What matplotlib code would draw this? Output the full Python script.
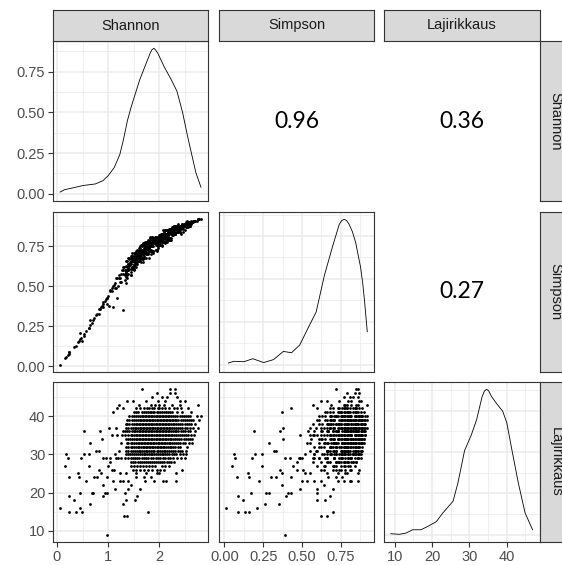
import matplotlib
matplotlib.use("Agg")
import matplotlib.pyplot as plt

plt.rcParams["font.family"] = ["Liberation Sans", "DejaVu Sans"]

NAMES = ["Shannon", "Simpson", "Lajirikkaus"]

# observations, grouped by Lajirikkaus value (first pass 47 ... 9, then extra points of the dense core)
shannon = [
    1.66, 2.21, 2.31,
    1.95, 2.21, 2.31,
    1.87, 2.05, 2.15, 2.35,
    1.38, 1.49, 1.75, 1.98, 2.12, 2.40, 2.50,
    1.22, 1.60, 1.85, 1.92, 2.00, 2.10, 2.25, 2.40, 2.76,
    1.17, 1.30, 1.55, 1.62, 1.70, 1.90, 1.97, 2.05, 2.12, 2.30, 2.42, 2.56,
    1.10, 1.50, 1.58, 1.75, 1.82, 1.88, 1.95, 2.02, 2.10, 2.18, 2.26, 2.35, 2.45, 2.63,
    1.42, 1.50, 1.58, 1.66, 1.72, 1.78, 1.84, 1.90, 1.96, 2.02, 2.08, 2.14, 2.20, 2.28, 2.36, 2.44, 2.52, 2.60, 2.74, 2.82,
    1.38, 1.46, 1.54, 1.62, 1.68, 1.74, 1.80, 1.86, 1.92, 1.98, 2.04, 2.10, 2.16, 2.22, 2.28, 2.34, 2.42, 2.50, 2.58, 2.66, 2.79,
    1.35, 1.42, 1.50, 1.57, 1.63, 1.69, 1.75, 1.81, 1.87, 1.93, 1.99, 2.05, 2.11, 2.17, 2.23, 2.30, 2.37, 2.45, 2.54, 2.62, 2.70,
    1.02, 1.16, 1.36, 1.44, 1.52, 1.59, 1.65, 1.71, 1.77, 1.83, 1.89, 1.95, 2.01, 2.07, 2.13, 2.19, 2.26, 2.33, 2.41, 2.50, 2.60, 2.76,
    0.52, 0.84, 1.30, 1.38, 1.46, 1.53, 1.60, 1.66, 1.72, 1.78, 1.84, 1.90, 1.96, 2.02, 2.08, 2.14, 2.20, 2.27, 2.34, 2.42, 2.51, 2.60, 2.71,
    1.07, 1.18, 1.27, 1.40, 1.47, 1.54, 1.60, 1.66, 1.72, 1.78, 1.84, 1.90, 1.96, 2.02, 2.08, 2.14, 2.20, 2.26, 2.33, 2.40, 2.48, 2.57, 2.68,
    0.88, 1.35, 1.43, 1.50, 1.57, 1.63, 1.69, 1.75, 1.81, 1.87, 1.93, 1.99, 2.05, 2.11, 2.17, 2.24, 2.31, 2.39, 2.48, 2.57, 2.65,
    0.65, 1.25, 1.40, 1.47, 1.54, 1.61, 1.67, 1.73, 1.79, 1.85, 1.91, 1.97, 2.03, 2.09, 2.15, 2.22, 2.29, 2.37, 2.46, 2.58, 2.65,
    1.40, 1.47, 1.54, 1.61, 1.68, 1.74, 1.80, 1.86, 1.92, 1.98, 2.04, 2.10, 2.17, 2.24, 2.32, 2.41, 2.55,
    0.77, 0.82, 1.22, 1.40, 1.48, 1.56, 1.63, 1.70, 1.77, 1.84, 1.91, 1.98, 2.05, 2.12, 2.20, 2.28, 2.37, 2.45,
    0.18, 0.52, 0.62, 1.14, 1.35, 1.43, 1.51, 1.59, 1.66, 1.73, 1.80, 1.87, 1.94, 2.01, 2.08, 2.16, 2.25, 2.40, 2.53,
    0.21, 0.47, 0.90, 0.96, 1.04, 1.20, 1.25, 1.40, 1.48, 1.57, 1.66, 1.75, 1.84, 1.93, 2.02, 2.12, 2.22, 2.35, 2.50,
    1.03, 1.45, 1.53, 1.62, 1.70, 1.78, 1.86, 1.94, 2.02, 2.10, 2.19, 2.30,
    0.15, 0.62, 0.99, 1.45, 1.56, 1.68, 1.80, 1.92, 2.05, 2.20,
    0.83, 1.07, 1.12, 1.48, 1.62, 1.78, 1.95, 2.10, 2.44,
    0.41, 0.86, 1.23, 1.36, 1.55, 1.75, 1.95, 2.00, 2.34,
    0.23, 0.44, 0.73, 0.78, 0.97, 1.55, 1.70, 1.85,
    0.57, 1.10, 1.23, 1.30, 1.40, 1.72, 1.90, 2.08, 2.14, 2.34,
    0.91, 1.45,
    1.14, 1.40, 1.62,
    0.45, 0.68, 0.71, 0.94, 0.97, 1.33,
    0.23, 0.91, 1.56,
    0.34, 1.35, 1.53,
    0.65, 1.29,
    0.06, 0.45,
    0.23, 0.38, 0.49, 1.79,
    1.32, 1.38,
    0.97,
    # extra core points
    1.46, 1.54, 1.62, 1.69, 1.75, 1.81, 1.87, 1.93, 1.99, 2.05, 2.11, 2.17, 2.24, 2.32, 2.40, 2.48, 2.56,
    1.42, 1.50, 1.58, 1.65, 1.71, 1.77, 1.83, 1.89, 1.95, 2.01, 2.07, 2.13, 2.19, 2.25, 2.31, 2.38, 2.46, 2.54, 2.62,
    1.38, 1.46, 1.54, 1.60, 1.66, 1.72, 1.78, 1.84, 1.90, 1.96, 2.02, 2.08, 2.14, 2.20, 2.27, 2.34, 2.41, 2.50, 2.58,
    1.40, 1.48, 1.55, 1.62, 1.68, 1.74, 1.80, 1.86, 1.92, 1.98, 2.04, 2.10, 2.16, 2.22, 2.29, 2.37, 2.45, 2.55, 2.66,
    1.34, 1.42, 1.50, 1.56, 1.63, 1.69, 1.75, 1.81, 1.87, 1.93, 1.99, 2.05, 2.11, 2.17, 2.24, 2.31, 2.38, 2.47, 2.56,
    1.33, 1.44, 1.51, 1.57, 1.63, 1.69, 1.75, 1.81, 1.87, 1.93, 1.99, 2.05, 2.11, 2.17, 2.23, 2.30, 2.37, 2.44, 2.52, 2.62,
    1.39, 1.47, 1.54, 1.60, 1.66, 1.72, 1.78, 1.84, 1.90, 1.96, 2.02, 2.08, 2.14, 2.21, 2.28, 2.35, 2.43, 2.52, 2.61,
    1.37, 1.44, 1.51, 1.58, 1.64, 1.70, 1.76, 1.82, 1.88, 1.94, 2.00, 2.06, 2.12, 2.19, 2.26, 2.33, 2.41, 2.51,
    1.36, 1.44, 1.51, 1.58, 1.65, 1.71, 1.77, 1.83, 1.89, 1.95, 2.01, 2.07, 2.14, 2.21, 2.28, 2.37,
    1.36, 1.44, 1.52, 1.60, 1.67, 1.74, 1.81, 1.88, 1.95, 2.02, 2.09, 2.16, 2.24, 2.32, 2.41, 2.52,
    1.39, 1.47, 1.55, 1.62, 1.70, 1.77, 1.84, 1.91, 1.98, 2.05, 2.12, 2.20, 2.29, 2.34, 2.47,
    1.44, 1.52, 1.61, 1.70, 1.79, 1.88, 1.97, 2.07, 2.17, 2.28, 2.42, 1.33, 1.15,
    1.49, 1.58, 1.66, 1.74, 1.82, 1.90, 1.98, 2.06, 2.15, 2.24,
    1.54, 1.66, 1.70, 1.79, 1.85, 1.91, 1.98, 2.06, 2.14, 2.22,
    1.80, 1.86, 2.00, 2.20, 2.36, 1.76,
    1.50, 1.62, 1.74, 1.86, 2.12,
    1.55, 1.70, 1.87, 2.02,
]
simpson = [
    0.72, 0.85, 0.86,
    0.79, 0.84, 0.87,
    0.77, 0.81, 0.83, 0.86,
    0.62, 0.66, 0.74, 0.80, 0.82, 0.87, 0.88,
    0.57, 0.69, 0.77, 0.78, 0.79, 0.82, 0.85, 0.86, 0.92,
    0.43, 0.60, 0.68, 0.70, 0.73, 0.78, 0.79, 0.81, 0.83, 0.85, 0.87, 0.89,
    0.37, 0.66, 0.70, 0.74, 0.75, 0.78, 0.79, 0.80, 0.81, 0.84, 0.85, 0.86, 0.88, 0.90,
    0.63, 0.69, 0.68, 0.72, 0.71, 0.76, 0.75, 0.78, 0.77, 0.80, 0.82, 0.81, 0.84, 0.85, 0.86, 0.87, 0.89, 0.88, 0.91, 0.92,
    0.60, 0.66, 0.65, 0.71, 0.70, 0.74, 0.77, 0.75, 0.79, 0.78, 0.81, 0.82, 0.80, 0.84, 0.83, 0.86, 0.87, 0.88, 0.89, 0.90, 0.92,
    0.63, 0.61, 0.68, 0.67, 0.72, 0.70, 0.75, 0.74, 0.78, 0.77, 0.80, 0.79, 0.82, 0.83, 0.84, 0.86, 0.85, 0.88, 0.89, 0.90, 0.91,
    0.38, 0.55, 0.59, 0.66, 0.64, 0.70, 0.71, 0.73, 0.76, 0.75, 0.78, 0.80, 0.79, 0.82, 0.83, 0.84, 0.85, 0.86, 0.87, 0.89, 0.90, 0.92,
    0.19, 0.36, 0.62, 0.58, 0.67, 0.66, 0.70, 0.73, 0.72, 0.76, 0.77, 0.79, 0.78, 0.81, 0.82, 0.83, 0.85, 0.84, 0.86, 0.88, 0.89, 0.90, 0.91,
    0.49, 0.55, 0.60, 0.64, 0.62, 0.69, 0.70, 0.72, 0.74, 0.73, 0.77, 0.78, 0.80, 0.79, 0.82, 0.81, 0.84, 0.85, 0.86, 0.87, 0.88, 0.89, 0.91,
    0.38, 0.56, 0.65, 0.63, 0.69, 0.71, 0.70, 0.75, 0.74, 0.77, 0.79, 0.78, 0.81, 0.82, 0.84, 0.83, 0.86, 0.87, 0.88, 0.89, 0.90,
    0.29, 0.53, 0.61, 0.67, 0.66, 0.70, 0.73, 0.72, 0.76, 0.77, 0.78, 0.80, 0.79, 0.82, 0.83, 0.85, 0.84, 0.87, 0.88, 0.89, 0.90,
    0.64, 0.62, 0.68, 0.69, 0.72, 0.74, 0.75, 0.77, 0.78, 0.79, 0.81, 0.80, 0.83, 0.84, 0.86, 0.87, 0.89,
    0.32, 0.33, 0.55, 0.60, 0.66, 0.68, 0.67, 0.72, 0.75, 0.76, 0.78, 0.79, 0.81, 0.80, 0.84, 0.85, 0.86, 0.88,
    0.06, 0.20, 0.24, 0.52, 0.58, 0.64, 0.63, 0.69, 0.71, 0.72, 0.76, 0.75, 0.78, 0.80, 0.81, 0.83, 0.84, 0.87, 0.88,
    0.07, 0.18, 0.39, 0.42, 0.48, 0.50, 0.58, 0.61, 0.66, 0.65, 0.71, 0.74, 0.76, 0.78, 0.80, 0.82, 0.84, 0.86, 0.88,
    0.47, 0.57, 0.67, 0.66, 0.72, 0.74, 0.77, 0.78, 0.79, 0.82, 0.83, 0.85,
    0.05, 0.24, 0.44, 0.65, 0.64, 0.72, 0.75, 0.77, 0.81, 0.84,
    0.36, 0.47, 0.51, 0.62, 0.70, 0.75, 0.78, 0.82, 0.87,
    0.15, 0.37, 0.55, 0.52, 0.66, 0.73, 0.78, 0.79, 0.86,
    0.08, 0.16, 0.30, 0.33, 0.43, 0.67, 0.72, 0.76,
    0.22, 0.50, 0.53, 0.58, 0.62, 0.73, 0.77, 0.81, 0.82, 0.86,
    0.37, 0.64,
    0.49, 0.60, 0.70,
    0.17, 0.27, 0.29, 0.41, 0.43, 0.60,
    0.09, 0.40, 0.68,
    0.12, 0.60, 0.65,
    0.26, 0.35,
    0.01, 0.21,
    0.09, 0.13, 0.16, 0.70,
    0.62, 0.66,
    0.39,
    # extra core points
    0.61, 0.72, 0.69, 0.65, 0.77, 0.72, 0.81, 0.73, 0.81, 0.76, 0.85, 0.81, 0.79, 0.88, 0.84, 0.89, 0.87,
    0.68, 0.61, 0.69, 0.76, 0.69, 0.75, 0.81, 0.71, 0.81, 0.76, 0.80, 0.85, 0.79, 0.87, 0.83, 0.88, 0.84, 0.91, 0.89,
    0.57, 0.69, 0.66, 0.74, 0.67, 0.75, 0.79, 0.72, 0.80, 0.73, 0.82, 0.79, 0.85, 0.80, 0.86, 0.84, 0.88, 0.85, 0.90,
    0.68, 0.62, 0.71, 0.68, 0.77, 0.68, 0.78, 0.75, 0.81, 0.74, 0.83, 0.78, 0.85, 0.80, 0.88, 0.84, 0.89, 0.87, 0.91,
    0.54, 0.67, 0.63, 0.73, 0.70, 0.67, 0.78, 0.72, 0.80, 0.73, 0.81, 0.78, 0.85, 0.79, 0.86, 0.83, 0.89, 0.86, 0.90,
    0.58, 0.57, 0.71, 0.66, 0.75, 0.68, 0.77, 0.68, 0.81, 0.76, 0.82, 0.75, 0.85, 0.82, 0.80, 0.88, 0.84, 0.89, 0.87, 0.91,
    0.61, 0.71, 0.62, 0.73, 0.68, 0.78, 0.73, 0.70, 0.80, 0.78, 0.76, 0.85, 0.79, 0.86, 0.82, 0.88, 0.83, 0.90, 0.88,
    0.55, 0.69, 0.64, 0.71, 0.65, 0.76, 0.71, 0.80, 0.72, 0.81, 0.76, 0.83, 0.78, 0.86, 0.82, 0.88, 0.84, 0.89,
    0.58, 0.68, 0.61, 0.72, 0.69, 0.77, 0.70, 0.79, 0.75, 0.72, 0.82, 0.78, 0.85, 0.79, 0.87, 0.85,
    0.66, 0.59, 0.70, 0.66, 0.76, 0.71, 0.78, 0.72, 0.80, 0.77, 0.84, 0.78, 0.86, 0.83, 0.88, 0.89,
    0.58, 0.69, 0.66, 0.74, 0.68, 0.78, 0.72, 0.80, 0.76, 0.83, 0.77, 0.85, 0.83, 0.86, 0.87,
    0.61, 0.71, 0.66, 0.75, 0.71, 0.80, 0.76, 0.82, 0.81, 0.86, 0.86, 0.57, 0.49,
    0.62, 0.72, 0.68, 0.77, 0.73, 0.80, 0.75, 0.83, 0.80, 0.85,
    0.65, 0.75, 0.68, 0.77, 0.73, 0.80, 0.75, 0.83, 0.80, 0.85,
    0.74, 0.79, 0.76, 0.85, 0.84, 0.77,
    0.60, 0.71, 0.70, 0.78, 0.80,
    0.64, 0.74, 0.72, 0.81,
]
lajirikkaus = [
    47, 47, 47,
    46, 46, 46,
    45, 45, 45, 45,
    44, 44, 44, 44, 44, 44, 44,
    43, 43, 43, 43, 43, 43, 43, 43, 43,
    42, 42, 42, 42, 42, 42, 42, 42, 42, 42, 42, 42,
    41, 41, 41, 41, 41, 41, 41, 41, 41, 41, 41, 41, 41, 41,
    40, 40, 40, 40, 40, 40, 40, 40, 40, 40, 40, 40, 40, 40, 40, 40, 40, 40, 40, 40,
    39, 39, 39, 39, 39, 39, 39, 39, 39, 39, 39, 39, 39, 39, 39, 39, 39, 39, 39, 39, 39,
    38, 38, 38, 38, 38, 38, 38, 38, 38, 38, 38, 38, 38, 38, 38, 38, 38, 38, 38, 38, 38,
    37, 37, 37, 37, 37, 37, 37, 37, 37, 37, 37, 37, 37, 37, 37, 37, 37, 37, 37, 37, 37, 37,
    36, 36, 36, 36, 36, 36, 36, 36, 36, 36, 36, 36, 36, 36, 36, 36, 36, 36, 36, 36, 36, 36, 36,
    35, 35, 35, 35, 35, 35, 35, 35, 35, 35, 35, 35, 35, 35, 35, 35, 35, 35, 35, 35, 35, 35, 35,
    34, 34, 34, 34, 34, 34, 34, 34, 34, 34, 34, 34, 34, 34, 34, 34, 34, 34, 34, 34, 34,
    33, 33, 33, 33, 33, 33, 33, 33, 33, 33, 33, 33, 33, 33, 33, 33, 33, 33, 33, 33, 33,
    32, 32, 32, 32, 32, 32, 32, 32, 32, 32, 32, 32, 32, 32, 32, 32, 32,
    31, 31, 31, 31, 31, 31, 31, 31, 31, 31, 31, 31, 31, 31, 31, 31, 31, 31,
    30, 30, 30, 30, 30, 30, 30, 30, 30, 30, 30, 30, 30, 30, 30, 30, 30, 30, 30,
    29, 29, 29, 29, 29, 29, 29, 29, 29, 29, 29, 29, 29, 29, 29, 29, 29, 29, 29,
    28, 28, 28, 28, 28, 28, 28, 28, 28, 28, 28, 28,
    27, 27, 27, 27, 27, 27, 27, 27, 27, 27,
    26, 26, 26, 26, 26, 26, 26, 26, 26,
    25, 25, 25, 25, 25, 25, 25, 25, 25,
    24, 24, 24, 24, 24, 24, 24, 24,
    23, 23, 23, 23, 23, 23, 23, 23, 23, 23,
    22, 22,
    21, 21, 21,
    20, 20, 20, 20, 20, 20,
    19, 19, 19,
    18, 18, 18,
    17, 17,
    16, 16,
    15, 15, 15, 15,
    14, 14,
    9,
    # extra core points
    40, 40, 40, 40, 40, 40, 40, 40, 40, 40, 40, 40, 40, 40, 40, 40, 40,
    39, 39, 39, 39, 39, 39, 39, 39, 39, 39, 39, 39, 39, 39, 39, 39, 39, 39, 39,
    38, 38, 38, 38, 38, 38, 38, 38, 38, 38, 38, 38, 38, 38, 38, 38, 38, 38, 38,
    37, 37, 37, 37, 37, 37, 37, 37, 37, 37, 37, 37, 37, 37, 37, 37, 37, 37, 37,
    36, 36, 36, 36, 36, 36, 36, 36, 36, 36, 36, 36, 36, 36, 36, 36, 36, 36, 36,
    35, 35, 35, 35, 35, 35, 35, 35, 35, 35, 35, 35, 35, 35, 35, 35, 35, 35, 35, 35,
    34, 34, 34, 34, 34, 34, 34, 34, 34, 34, 34, 34, 34, 34, 34, 34, 34, 34, 34,
    33, 33, 33, 33, 33, 33, 33, 33, 33, 33, 33, 33, 33, 33, 33, 33, 33, 33,
    32, 32, 32, 32, 32, 32, 32, 32, 32, 32, 32, 32, 32, 32, 32, 32,
    31, 31, 31, 31, 31, 31, 31, 31, 31, 31, 31, 31, 31, 31, 31, 31,
    30, 30, 30, 30, 30, 30, 30, 30, 30, 30, 30, 30, 30, 30, 30,
    29, 29, 29, 29, 29, 29, 29, 29, 29, 29, 29, 29, 29,
    28, 28, 28, 28, 28, 28, 28, 28, 28, 28,
    41, 41, 41, 41, 41, 41, 41, 41, 41, 41,
    42, 42, 42, 42, 42, 42,
    27, 27, 27, 27, 27,
    26, 26, 26, 26,
]

# density curves
shannon_dens_x = [0.06, 0.15, 0.30, 0.50, 0.75, 0.90, 1.00, 1.12, 1.23, 1.30, 1.38, 1.45, 1.52,
                  1.62, 1.72, 1.82, 1.86, 1.90, 1.94, 1.98, 2.10, 2.24, 2.35, 2.46, 2.56, 2.64,
                  2.72, 2.82]
shannon_dens_y = [0.01, 0.025, 0.035, 0.05, 0.06, 0.08, 0.11, 0.16, 0.24, 0.33, 0.45, 0.53, 0.60,
                  0.70, 0.78, 0.86, 0.885, 0.894, 0.88, 0.86, 0.78, 0.70, 0.63, 0.50, 0.35, 0.24,
                  0.13, 0.04]
simpson_dens_x = [0.025, 0.062, 0.125, 0.183, 0.253, 0.317, 0.38, 0.433, 0.486, 0.539, 0.592,
                  0.645, 0.699, 0.741, 0.757, 0.773, 0.789, 0.805, 0.826, 0.847, 0.879, 0.892,
                  0.904, 0.922]
simpson_dens_y = [0.04, 0.08, 0.07, 0.14, 0.05, 0.12, 0.31, 0.28, 0.46, 0.85, 1.23,
                  2.08, 2.77, 3.27, 3.36, 3.39, 3.36, 3.27, 3.10, 2.85, 2.27, 1.92, 1.50, 0.77]
laji_dens_x = [8.9, 11.2, 13.0, 14.8, 17.0, 18.8, 21.1, 22.9, 25.6, 26.9, 28.7, 30.5,
               31.9, 33.4, 34.0, 34.6, 35.2, 35.9, 37.3, 38.9, 40.0, 41.4, 43.1, 44.9, 46.9]
laji_dens_y = [0.0005, 0.0002, 0.0008, 0.0024, 0.0024, 0.0040, 0.0063, 0.0106, 0.0162, 0.0250,
               0.0408, 0.0483, 0.0556, 0.0669, 0.0695, 0.0704, 0.0695, 0.0669, 0.0634, 0.0598,
               0.0542, 0.0408, 0.0250, 0.0106, 0.0024]

corr_labels = {(0, 1): "0.96", (0, 2): "0.36", (1, 2): "0.27"}

# axis breaks (major, minor, labels) per variable
BREAKS = {
    "Shannon": ([0, 1, 2], [0.5, 1.5, 2.5], ["0", "1", "2"]),
    "Simpson": ([0, 0.25, 0.5, 0.75], [0.125, 0.375, 0.625, 0.875],
                ["0.00", "0.25", "0.50", "0.75"]),
    "Lajirikkaus": ([10, 20, 30, 40], [15, 25, 35, 45], ["10", "20", "30", "40"]),
}
DENS_BREAKS = [
    ([0, 0.25, 0.5, 0.75], [0.125, 0.375, 0.625, 0.875], ["0.00", "0.25", "0.50", "0.75"]),
    ([0, 1, 2, 3], [0.5, 1.5, 2.5, 3.5], None),
    ([0, 0.02, 0.04, 0.06], [0.01, 0.03, 0.05, 0.07], None),
]

W, H = 562, 565
COLS = [(53, 208), (219, 374), (384, 540)]
ROWS = [(41, 201), (212, 372), (382, 542)]
GRID = "#EBEBEB"
BORDER = "#333333"


def rect(x0, x1, y0, y1):
    return [x0 / W, 1 - y1 / H, (x1 - x0) / W, (y1 - y0) / H]


def expand(vals, f=0.05):
    lo, hi = min(vals), max(vals)
    d = (hi - lo) * f
    return lo - d, hi + d


def style(ax, xb, yb, show_x, show_y):
    ax.set_xticks(xb[0])
    ax.set_xticks(xb[1], minor=True)
    ax.set_yticks(yb[0])
    ax.set_yticks(yb[1], minor=True)
    if show_x:
        ax.set_xticklabels(xb[2])
    if show_y:
        ax.set_yticklabels(yb[2])
    ax.grid(which="major", color=GRID, lw=1.1)
    ax.grid(which="minor", color=GRID, lw=0.55)
    ax.set_axisbelow(True)
    ax.tick_params(which="major", length=3.5, width=0.8, color=BORDER,
                   labelsize=10.5, labelcolor="#4D4D4D", pad=2)
    ax.tick_params(which="minor", length=0)
    ax.tick_params(axis="x", bottom=show_x, labelbottom=show_x)
    ax.tick_params(axis="y", left=show_y, labelleft=show_y)
    for sp in ax.spines.values():
        sp.set_color(BORDER)
        sp.set_linewidth(0.8)


def main():
    assert len(shannon) == len(simpson) == len(lajirikkaus)
    data = [shannon, simpson, lajirikkaus]
    dens = [(shannon_dens_x, shannon_dens_y), (simpson_dens_x, simpson_dens_y),
            (laji_dens_x, laji_dens_y)]
    lims = [expand(v) for v in data]

    fig = plt.figure(figsize=(W / 100, H / 100), dpi=100)

    for i in range(3):
        for j in range(3):
            ax = fig.add_axes(rect(COLS[j][0], COLS[j][1], ROWS[i][0], ROWS[i][1]))
            if i < j:
                ax.axis("off")
                ax.text(0.5, 0.5, corr_labels[(i, j)], transform=ax.transAxes,
                        ha="center", va="center", fontsize=16.5, family=["Lato", "DejaVu Sans"])
                continue
            xb = BREAKS[NAMES[j]]
            if i == j:
                dx, dy = dens[i]
                ax.plot(dx, dy, color="black", lw=0.6)
                ax.set_ylim(-0.05 * max(dy), 1.05 * max(dy))
                yb = DENS_BREAKS[i]
            else:
                ax.plot(data[j], data[i], "o", ms=2.0, mec="none", color="black")
                ax.set_ylim(*lims[i])
                yb = BREAKS[NAMES[i]]
            ax.set_xlim(*lims[j])
            style(ax, xb, yb, show_x=(i == 2), show_y=(j == 0))

    # facet strips: column labels on top, row labels on the right
    for j, name in enumerate(NAMES):
        s = fig.add_axes(rect(COLS[j][0], COLS[j][1], 10, 41))
        r = fig.add_axes(rect(540, 571, ROWS[j][0], ROWS[j][1]))
        s.text(0.5, 0.5, name, transform=s.transAxes, ha="center", va="center",
               fontsize=10.5, color="#1A1A1A")
        r.text(0.5, 0.5, name, transform=r.transAxes, ha="center", va="center",
               fontsize=10.5, color="#1A1A1A", rotation=-90)
        for a in (s, r):
            a.set_facecolor("#D9D9D9")
            a.set_xticks([])
            a.set_yticks([])
            for sp in a.spines.values():
                sp.set_color(BORDER)
                sp.set_linewidth(0.8)

    fig.savefig("out.png", dpi=100)


if __name__ == "__main__":
    main()
